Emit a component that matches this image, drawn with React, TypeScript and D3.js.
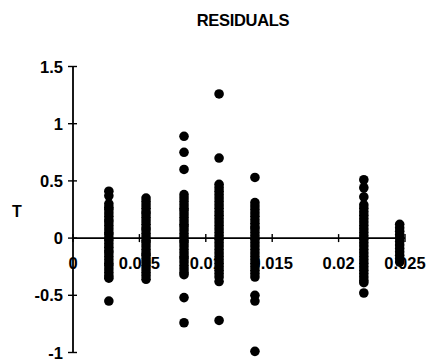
import React from "react";
import * as d3 from "d3";

const title = "RESIDUALS";
const yLabel = "T";
const xTicks = [0, 0.005, 0.01, 0.015, 0.02, 0.025];
const xTickLabels = ["0", "0.005", "0.01", "0.015", "0.02", "0.025"];
const yTicks = [1.5, 1, 0.5, 0, -0.5, -1];
const yTickLabels = ["1.5", "1", "0.5", "0", "-0.5", "-1"];

const columnX = [0.0027, 0.0055, 0.00836, 0.011, 0.0137, 0.0219, 0.0246];
const col1 = [0.41, 0.37, 0.30, 0.27, 0.25, 0.22, 0.19, 0.16, 0.14, 0.11, 0.08, 0.05, 0.03, 0.00, -0.02, -0.05, -0.08, -0.11, -0.13, -0.16, -0.19, -0.22, -0.24, -0.27, -0.30, -0.33, -0.35, -0.55];
const col2 = [0.35, 0.32, 0.29, 0.26, 0.23, 0.21, 0.18, 0.15, 0.12, 0.09, 0.07, 0.04, 0.01, -0.02, -0.04, -0.07, -0.10, -0.13, -0.15, -0.18, -0.21, -0.24, -0.27, -0.30, -0.33, -0.36];
const col3 = [0.89, 0.75, 0.60, 0.38, 0.35, 0.32, 0.29, 0.26, 0.24, 0.21, 0.18, 0.15, 0.12, 0.10, 0.07, 0.04, 0.01, -0.02, -0.04, -0.07, -0.10, -0.13, -0.16, -0.18, -0.21, -0.24, -0.27, -0.30, -0.32, -0.52, -0.74];
const col4 = [1.26, 0.70, 0.47, 0.44, 0.41, 0.38, 0.35, 0.32, 0.29, 0.26, 0.23, 0.20, 0.17, 0.14, 0.11, 0.08, 0.05, 0.02, -0.01, -0.04, -0.07, -0.10, -0.13, -0.16, -0.19, -0.22, -0.25, -0.28, -0.31, -0.34, -0.38, -0.72];
const col5 = [0.53, 0.31, 0.28, 0.25, 0.22, 0.19, 0.16, 0.13, 0.10, 0.08, 0.05, 0.02, -0.01, -0.04, -0.07, -0.10, -0.13, -0.16, -0.19, -0.22, -0.25, -0.28, -0.31, -0.34, -0.50, -0.55, -0.99];
const col6 = [0.51, 0.44, 0.36, 0.29, 0.26, 0.23, 0.20, 0.17, 0.14, 0.11, 0.08, 0.05, 0.02, -0.01, -0.04, -0.07, -0.10, -0.13, -0.16, -0.19, -0.22, -0.25, -0.28, -0.31, -0.34, -0.37, -0.39, -0.48];
const col7 = [0.12, 0.09, 0.06, 0.03, 0.00, -0.03, -0.06, -0.09, -0.12, -0.15, -0.18, -0.21];
const columns = [col1, col2, col3, col4, col5, col6, col7];

const W = 428;
const H = 362;

export default function App() {
  const x = d3.scaleLinear().domain([0, 0.025]).range([73, 405]);
  const y = d3.scaleLinear().domain([-1, 1.5]).range([352.5, 66.5]);
  const font = "'Liberation Sans', Arial, Helvetica, sans-serif";
  const points: { x: number; t: number }[] = [];
  columns.forEach((col, i) => col.forEach((t) => points.push({ x: columnX[i], t })));

  return (
    <svg
      width={W}
      height={H}
      style={{ position: "absolute", left: 0, top: 0, background: "#fff" }}
    >
      <rect width={W} height={H} fill="#fff" />
      <text x={243} y={26} textAnchor="middle" fontFamily={font} fontWeight="bold" fontSize={16.5} letterSpacing={-0.3}>
        {title}
      </text>
      <text x={17} y={217} textAnchor="middle" fontFamily={font} fontWeight="bold" fontSize={16}>
        {yLabel}
      </text>
      {/* y axis */}
      <line x1={x(0)} x2={x(0)} y1={y(1.5)} y2={y(-1)} stroke="#000" strokeWidth={1.8} />
      {yTicks.map((t, i) => (
        <g key={"y" + i}>
          <line x1={x(0) - 5} x2={x(0) + 4} y1={y(t)} y2={y(t)} stroke="#000" strokeWidth={1.4} />
          <text
            x={63}
            y={y(t) + 6}
            textAnchor="end"
            fontFamily={font}
            fontWeight="bold"
            fontSize={16.5}
          >
            {yTickLabels[i]}
          </text>
        </g>
      ))}
      {/* x axis */}
      <line x1={x(0)} x2={x(0.025)} y1={y(0)} y2={y(0)} stroke="#000" strokeWidth={1.8} />
      {xTicks.map((t, i) => (
        <g key={"x" + i}>
          <line x1={x(t)} x2={x(t)} y1={y(0) - 4} y2={y(0) + 4} stroke="#000" strokeWidth={1.4} />
          <text
            x={x(t)}
            y={y(0) + 31}
            textAnchor="middle"
            fontFamily={font}
            fontWeight="bold"
            fontSize={16.5}
          >
            {xTickLabels[i]}
          </text>
        </g>
      ))}
      {points.map((p, i) => (
        <circle key={i} cx={x(p.x)} cy={y(p.t)} r={4.8} fill="#000" />
      ))}
    </svg>
  );
}
